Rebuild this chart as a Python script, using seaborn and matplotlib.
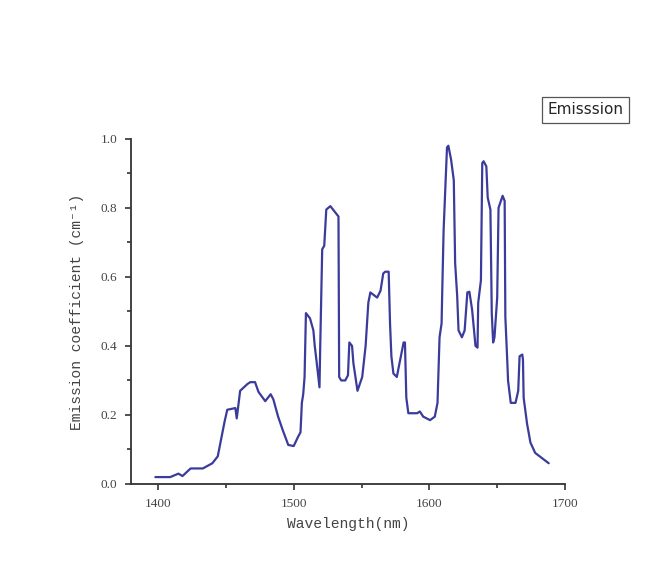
import matplotlib
matplotlib.use("Agg")
import matplotlib.pyplot as plt
import seaborn as sns
import pandas as pd

# Data
wavelength = [1398, 1409, 1415, 1418, 1424, 1433, 1440, 1444, 1446, 1449,
              1451, 1457, 1458, 1460.5, 1466, 1468, 1471.5, 1474, 1479, 1483,
              1485, 1488.5, 1492, 1496, 1500, 1503, 1505, 1506, 1507, 1508,
              1509, 1512, 1514.5, 1515.5, 1517, 1519, 1519.5, 1521, 1522.5, 1524,
              1527, 1529, 1533, 1533.5, 1535, 1538, 1540, 1541, 1543, 1544,
              1547, 1550.5, 1553, 1555, 1556.5, 1561.5, 1564, 1566, 1567.5, 1570,
              1571, 1572, 1573.5, 1576, 1578.5, 1581, 1582, 1583, 1584.5, 1591,
              1593, 1595.5, 1600.5, 1604, 1606, 1607.5, 1609, 1609.5, 1610.5, 1612,
              1613, 1614, 1616, 1618, 1619, 1620.5, 1621.5, 1624, 1626, 1628,
              1629.5, 1631.5, 1634, 1635.5, 1636, 1638, 1639, 1640, 1642, 1643,
              1645, 1646, 1647, 1648, 1650, 1651, 1654, 1655.5, 1656, 1657.5,
              1658, 1660, 1663.5, 1665.5, 1666.5, 1668.5, 1669, 1669.5, 1672, 1674.5,
              1678, 1683, 1688]
emission = [0.02, 0.02, 0.03, 0.023, 0.045, 0.045, 0.06, 0.08, 0.12, 0.18,
            0.215, 0.22, 0.19, 0.27, 0.29, 0.295, 0.295, 0.267, 0.24, 0.26,
            0.245, 0.195, 0.155, 0.113, 0.11, 0.135, 0.15, 0.235, 0.26, 0.31,
            0.495, 0.48, 0.445, 0.40, 0.35, 0.28, 0.39, 0.68, 0.69, 0.795,
            0.805, 0.795, 0.775, 0.31, 0.30, 0.30, 0.315, 0.41, 0.40, 0.35,
            0.27, 0.31, 0.40, 0.525, 0.555, 0.54, 0.56, 0.61, 0.615, 0.615,
            0.465, 0.37, 0.32, 0.31, 0.36, 0.41, 0.41, 0.25, 0.205, 0.205,
            0.21, 0.195, 0.185, 0.195, 0.235, 0.425, 0.465, 0.56, 0.735, 0.88,
            0.975, 0.98, 0.94, 0.88, 0.64, 0.545, 0.445, 0.425, 0.445, 0.555,
            0.557, 0.505, 0.40, 0.395, 0.525, 0.59, 0.93, 0.935, 0.92, 0.83,
            0.795, 0.495, 0.41, 0.425, 0.54, 0.80, 0.835, 0.82, 0.485, 0.35,
            0.30, 0.235, 0.235, 0.27, 0.37, 0.375, 0.36, 0.25, 0.175, 0.12,
            0.09, 0.075, 0.06]
x_ticks = [1400, 1500, 1600, 1700]
y_ticks = [0.0, 0.2, 0.4, 0.6, 0.8, 1.0]

df = pd.DataFrame({"wl": wavelength, "em": emission})

sns.set_style("ticks")
fig = plt.figure(figsize=(6.45, 5.87), dpi=100)
ax = fig.add_axes([0.203, 0.1755, 0.673, 0.588])

sns.lineplot(x="wl", y="em", data=df, ax=ax, sort=False, estimator=None,
             color="#3b3b9c", linewidth=1.6, label="Emisssion")

ax.set_xlim(1380, 1700)
ax.set_ylim(0, 1.0)
ax.set_xticks(x_ticks)
ax.set_yticks(y_ticks)
ax.set_xticks([1450, 1550, 1650], minor=True)
ax.set_yticks([0.1, 0.3, 0.5, 0.7, 0.9], minor=True)
ax.set_xticklabels([str(t) for t in x_ticks], family="Liberation Serif",
                   fontsize=9.5, color="#444444")
ax.set_yticklabels(["%.1f" % t for t in y_ticks], family="Liberation Serif",
                   fontsize=9.5, color="#444444")
ax.tick_params(which="major", length=4, width=1.2, color="#333333", pad=6)
ax.tick_params(which="minor", length=3, width=1.2, color="#333333")
for side in ["left", "bottom"]:
    ax.spines[side].set_linewidth(1.3)
    ax.spines[side].set_color("#333333")
sns.despine(ax=ax)

ax.set_xlabel("Wavelength(nm)", family=["Liberation Mono", "DejaVu Sans Mono"],
              fontsize=10.5, color="#444444", labelpad=5)
ax.set_ylabel("Emission coefficient (cm⁻¹)",
              family=["Liberation Mono", "DejaVu Sans Mono"],
              fontsize=10.5, color="#444444", labelpad=12)

leg = ax.legend(loc="center", bbox_to_anchor=(585.5 / 645, 1 - 110 / 587),
                bbox_transform=fig.transFigure, handlelength=0, handletextpad=0,
                fancybox=False, edgecolor="#555555", framealpha=1,
                prop={"family": "DejaVu Sans", "size": 11},
                borderpad=0.35)
for h in leg.legend_handles:
    h.set_visible(False)
leg.get_frame().set_linewidth(0.9)

fig.savefig("out.png", dpi=100, facecolor="white")
